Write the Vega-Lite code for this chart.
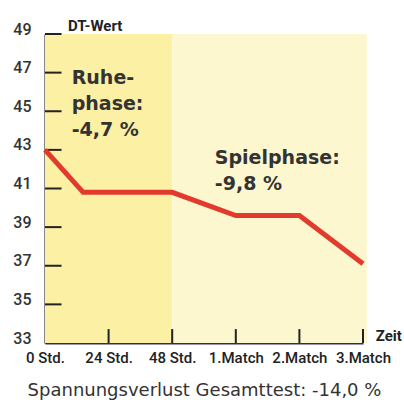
{
  "$schema": "https://vega.github.io/schema/vega-lite/v6.json",
  "width": 318,
  "height": 309,
  "autosize": {"type": "none"},
  "padding": {"left": 45, "top": 34, "right": 41, "bottom": 60},
  "background": "#ffffff",
  "config": {
    "view": {"stroke": null},
    "axis": {"labelOverlap": false, "labelFlush": false, "labelBound": false, "grid": false, "ticks": false}
  },
  "datasets": {
    "phases": [
      {"start": 0, "end": 2, "phase": "Ruhephase", "low": 33, "high": 49},
      {"start": 2, "end": 5.06, "phase": "Spielphase", "low": 33, "high": 49}
    ],
    "series": [
      {"t": 0, "wert": 43.0},
      {"t": 0.6, "wert": 40.8},
      {"t": 1, "wert": 40.8},
      {"t": 2, "wert": 40.8},
      {"t": 3, "wert": 39.6},
      {"t": 4, "wert": 39.6},
      {"t": 5, "wert": 37.1}
    ],
    "yticks": [
      {"wert": 35}, {"wert": 37}, {"wert": 39}, {"wert": 41}, {"wert": 43}, {"wert": 45}, {"wert": 47}, {"wert": 49}
    ],
    "xticks": [
      {"t": 1}, {"t": 2}, {"t": 3}, {"t": 4}, {"t": 5}
    ],
    "notes": [
      {"t": 0.42, "wert": 46.7, "label": ["Ruhe-", "phase:", "-4,7 %"]},
      {"t": 2.67, "wert": 42.6, "label": ["Spielphase:", "-9,8 %"]}
    ],
    "axislabels": [
      {"t": 0.36, "wert": 49.42, "label": "DT-Wert"},
      {"t": 5.2, "wert": 33.35, "label": "Zeit"}
    ]
  },
  "layer": [
    {
      "data": {"name": "phases"},
      "mark": {"type": "rect"},
      "encoding": {
        "x": {"field": "start", "type": "quantitative", "scale": {"domain": [0, 5], "nice": false, "zero": false},
          "axis": {
            "values": [0, 1, 2, 3, 4, 5], "tickCount": 12,
            "labelExpr": "['0 Std.','24 Std.','48 Std.','1.Match','2.Match','3.Match'][datum.value]",
            "domainColor": "#2e2e5a", "domainWidth": 2,
            "labelFont": "Roboto", "labelFontWeight": 500,
            "labelFontSize": 15, "labelColor": "#222222", "labelPadding": 7,
            "labelOverlap": false,
            "title": "Spannungsverlust Gesamttest: -14,0 %",
            "titleFont": "DejaVu Sans", "titleFontSize": 18, "titleFontWeight": "normal",
            "titleColor": "#333333", "titlePadding": 16
          }},
        "x2": {"field": "end"},
        "y": {"field": "low", "type": "quantitative", "scale": {"domain": [33, 49], "nice": false, "zero": false},
          "axis": {
            "values": [33, 35, 37, 39, 41, 43, 45, 47, 49], "tickCount": 12,
            "domainColor": "#111111", "domainWidth": 2,
            "labelFont": "Roboto", "labelFontWeight": 500,
            "labelFontSize": 16, "labelColor": "#333333", "labelPadding": 14,
            "labelBaseline": "alphabetic", "labelOverlap": false,
            "title": null
          }},
        "y2": {"field": "high"},
        "color": {"field": "phase", "type": "nominal", "legend": null,
          "scale": {"domain": ["Ruhephase", "Spielphase"], "range": ["#fcf0a4", "#fdf7cf"]}}
      }
    },
    {
      "data": {"name": "yticks"},
      "mark": {"type": "rule", "color": "#222222", "strokeWidth": 2},
      "encoding": {
        "x": {"datum": 0, "type": "quantitative"},
        "x2": {"datum": 0.26},
        "y": {"field": "wert", "type": "quantitative"}
      }
    },
    {
      "data": {"name": "xticks"},
      "mark": {"type": "rule", "color": "#222222", "strokeWidth": 2},
      "encoding": {
        "x": {"field": "t", "type": "quantitative"},
        "y": {"datum": 33, "type": "quantitative"},
        "y2": {"datum": 33.72}
      }
    },
    {
      "data": {"name": "series"},
      "mark": {"type": "line", "color": "#e23a2c", "strokeWidth": 5, "strokeJoin": "miter"},
      "encoding": {
        "x": {"field": "t", "type": "quantitative"},
        "y": {"field": "wert", "type": "quantitative"}
      }
    },
    {
      "data": {"name": "notes"},
      "mark": {"type": "text", "align": "left", "baseline": "middle", "font": "DejaVu Sans", "fontWeight": "bold", "fontSize": 19, "lineHeight": 26, "color": "#333333"},
      "encoding": {
        "x": {"field": "t", "type": "quantitative"},
        "y": {"field": "wert", "type": "quantitative"},
        "text": {"field": "label"}
      }
    },
    {
      "data": {"name": "axislabels"},
      "mark": {"type": "text", "align": "left", "baseline": "middle", "font": "Roboto", "fontWeight": "bold", "fontSize": 15, "color": "#222222"},
      "encoding": {
        "x": {"field": "t", "type": "quantitative"},
        "y": {"field": "wert", "type": "quantitative"},
        "text": {"field": "label"}
      }
    }
  ]
}
